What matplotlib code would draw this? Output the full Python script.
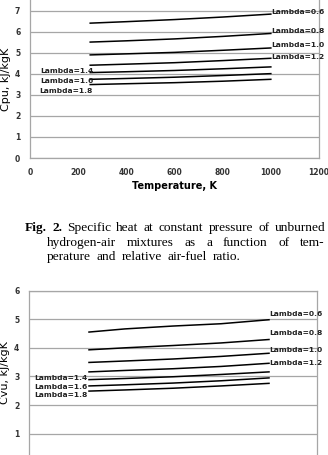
import matplotlib
matplotlib.use('Agg')
import matplotlib.pyplot as plt

# ===== Data =====
temps = [250, 400, 600, 800, 1000]
lambdas = ["0.6", "0.8", "1.0", "1.2", "1.4", "1.6", "1.8"]

cpu = {
    "0.6": [6.41, 6.48, 6.58, 6.70, 6.84],
    "0.8": [5.51, 5.57, 5.66, 5.78, 5.92],
    "1.0": [4.90, 4.95, 5.02, 5.12, 5.23],
    "1.2": [4.41, 4.46, 4.53, 4.63, 4.74],
    "1.4": [4.06, 4.10, 4.16, 4.24, 4.33],
    "1.6": [3.74, 3.78, 3.84, 3.92, 4.01],
    "1.8": [3.49, 3.53, 3.58, 3.65, 3.74],
}
cvu = {
    "0.6": [4.55, 4.66, 4.76, 4.84, 4.98],
    "0.8": [3.93, 4.00, 4.08, 4.17, 4.29],
    "1.0": [3.49, 3.54, 3.61, 3.70, 3.81],
    "1.2": [3.16, 3.21, 3.27, 3.35, 3.46],
    "1.4": [2.89, 2.93, 2.99, 3.07, 3.16],
    "1.6": [2.67, 2.71, 2.77, 2.85, 2.95],
    "1.8": [2.49, 2.53, 2.59, 2.67, 2.76],
}

# label positions (x, y, ha)
cpu_labels = {
    "0.6": (1000, 6.94, "left"), "0.8": (1000, 6.02, "left"),
    "1.0": (1000, 5.39, "left"), "1.2": (1000, 4.79, "left"),
    "1.4": (262, 4.12, "right"), "1.6": (262, 3.65, "right"),
    "1.8": (262, 3.18, "right"),
}
cvu_labels = {
    "0.6": (1000, 5.19, "left"), "0.8": (1000, 4.53, "left"),
    "1.0": (1000, 3.93, "left"), "1.2": (1000, 3.46, "left"),
    "1.4": (245, 2.96, "right"), "1.6": (245, 2.62, "right"),
    "1.8": (245, 2.36, "right"),
}

W, H = 328, 455
fig = plt.figure(figsize=(W / 100, H / 100), dpi=100)
fig.patch.set_facecolor('white')

GRID = '#a6a6a6'
SANS = 'DejaVu Sans'


def style_axes(ax, yticks, ylabel):
    ax.set_xlim(0, 1200)
    ax.set_xticks(range(0, 1201, 200))
    ax.set_yticks(yticks)
    ax.yaxis.grid(True, color=GRID, lw=0.9)
    ax.set_axisbelow(True)
    for s in ax.spines.values():
        s.set_color(GRID)
        s.set_linewidth(0.9)
    ax.spines['top'].set_visible(False)
    ax.tick_params(length=0, labelsize=5.5, pad=7)
    for lab in ax.get_xticklabels() + ax.get_yticklabels():
        lab.set_fontweight('bold')
        lab.set_color('#333333')
    ax.set_ylabel(ylabel, fontsize=8, family=SANS, labelpad=3)


def draw_lines(ax, data, labels):
    for lam in lambdas:
        ax.plot(temps, data[lam], color='black', lw=1.1)
        x, y, ha = labels[lam]
        ax.text(x, y, f"Lambda={lam}", ha=ha, va='center', fontsize=5.4,
                fontweight='bold', color='#222222', family=SANS)


# ===== Top chart: Cpu =====
ax1 = fig.add_axes([30 / W, 1 - 158 / H, 289 / W, 158 / H])
ax1.set_ylim(0, 7.51)
style_axes(ax1, range(0, 8), "Cpu, kJ/kgK")
draw_lines(ax1, cpu, cpu_labels)
ax1.set_xlabel("Temperature, K", fontsize=7, fontweight='bold', labelpad=3)

# ===== Bottom chart: Cvu =====
ax2 = fig.add_axes([29 / W, 0, 288 / W, 164.5 / H])
ax2.set_ylim(0.26, 6)
style_axes(ax2, range(1, 7), "Cvu, kJ/kgK")
ax2.spines['top'].set_visible(True)
ax2.spines['bottom'].set_visible(False)
ax2.tick_params(axis='x', labelbottom=False)
draw_lines(ax2, cvu, cvu_labels)

# ===== Caption (justified lines) =====
renderer = fig.canvas.get_renderer()
CAP = 9.6


def justified(words, x0, x1, ypx, justify=True):
    items = []
    for w, wt in words:
        t = fig.text(0, 1 - ypx / H, w, fontsize=CAP, family='Liberation Serif',
                     fontweight=wt, va='center', ha='left')
        items.append(t)
    widths = [t.get_window_extent(renderer).width for t in items]
    if justify:
        gap = (x1 - x0 - sum(widths)) / (len(items) - 1)
    else:
        gap = CAP * 100 / 72 * 0.42
    x = x0
    for t, w in zip(items, widths):
        t.set_x(x / W)
        x += w + gap


line1 = [("Fig.", 'bold'), ("2.", 'bold')] + [(w, 'normal') for w in
         "Specific heat at constant pressure of unburned".split()]
line2 = [(w, 'normal') for w in "hydrogen-air mixtures as a function of tem-".split()]
line3 = [(w, 'normal') for w in "perature and relative air-fuel ratio.".split()]
justified(line1, 25, 325, 228)
justified(line2, 47, 325, 243)
justified(line3, 47, 293, 257, justify=False)

plt.savefig("out.png", dpi=100)
